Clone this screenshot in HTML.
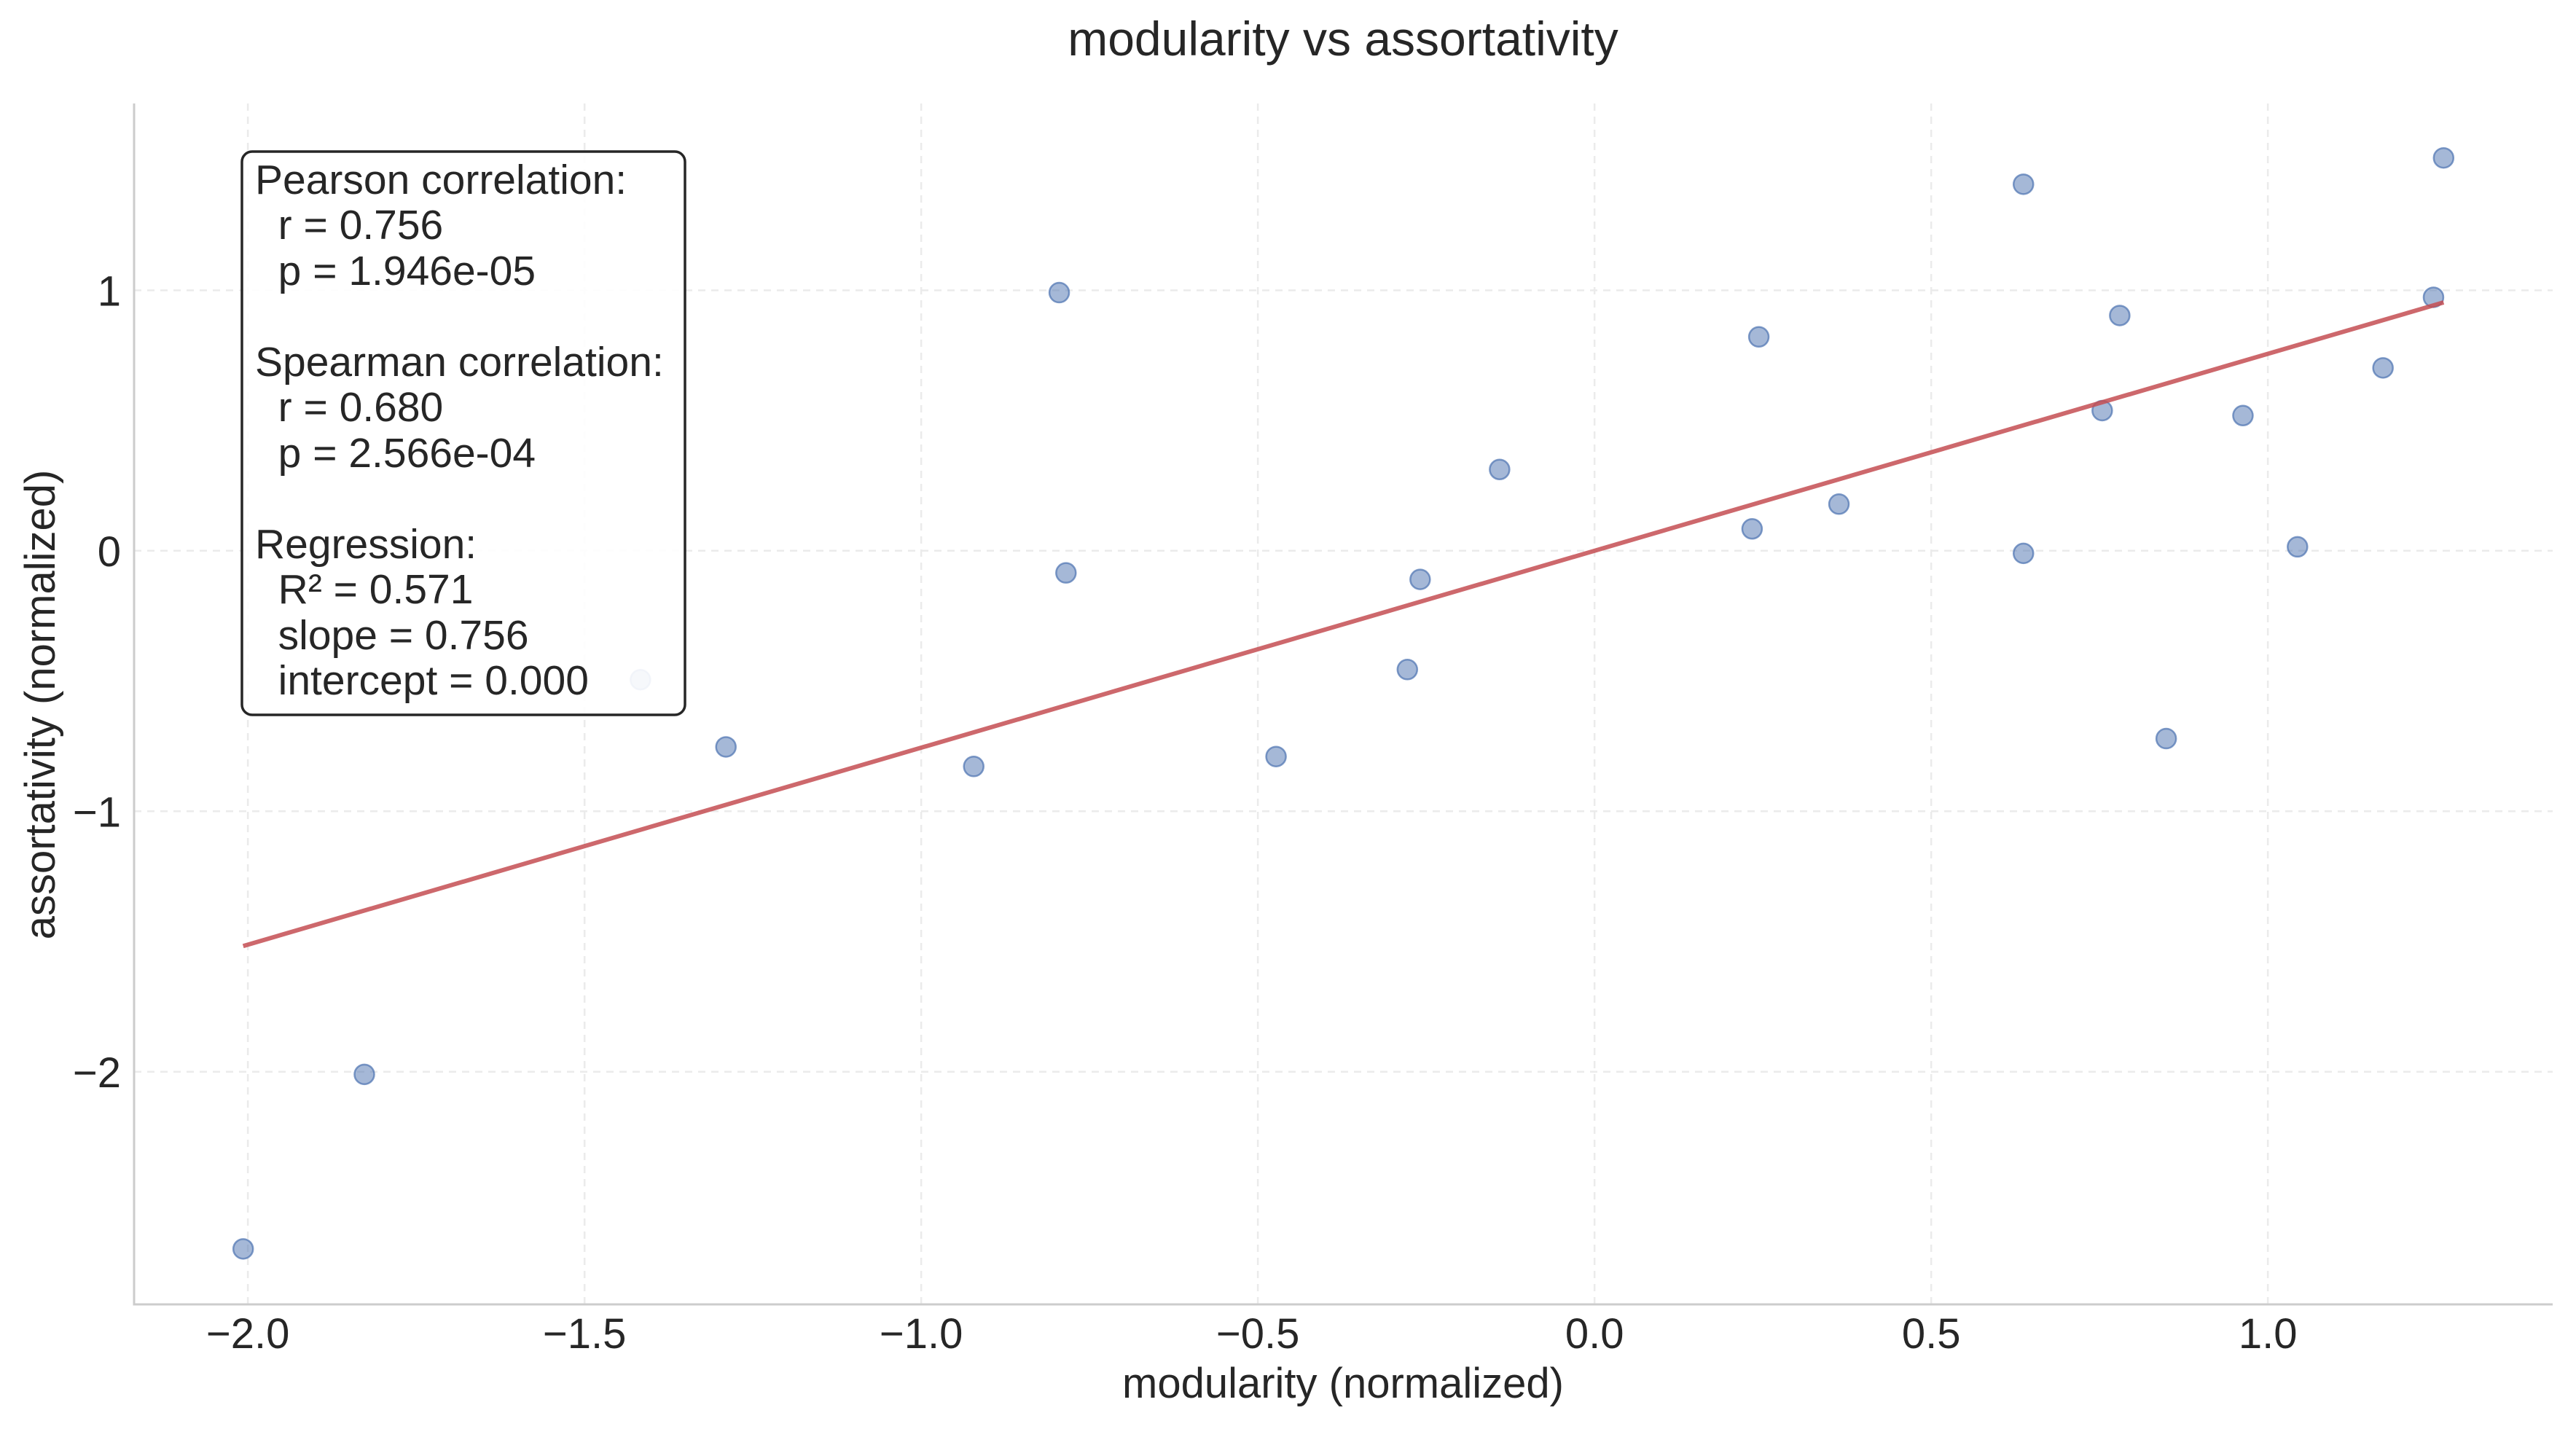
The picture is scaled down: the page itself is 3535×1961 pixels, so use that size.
<!DOCTYPE html>
<html><head><meta charset="utf-8"><style>
html,body{margin:0;padding:0;background:#fff;}
svg{display:block;font-family:"Liberation Sans",Arial,sans-serif;}
</style></head><body>
<svg id="chart" width="3535" height="1961" viewBox="0 0 3535 1961" xmlns="http://www.w3.org/2000/svg">
<rect width="3535" height="1961" fill="#fff"/>
<g id="grid"></g>
<g id="marks"></g>
<g id="axes"></g>
<text x="1843" y="76" font-size="66" text-anchor="middle" fill="#262626">modularity vs assortativity</text>
<text x="1843" y="1918" font-size="58" text-anchor="middle" fill="#262626">modularity (normalized)</text>
<text transform="translate(75,967) rotate(-90)" font-size="58" text-anchor="middle" fill="#262626">assortativity (normalized)</text>
<g>
<rect x="332" y="208" width="608" height="773" rx="14" fill="#fff" fill-opacity="0.9" stroke="#262626" stroke-width="3.5"/>
<text font-size="57" fill="#262626" xml:space="preserve">
<tspan x="350" y="266">Pearson correlation:</tspan>
<tspan x="350" y="328">  r = 0.756</tspan>
<tspan x="350" y="391">  p = 1.946e-05</tspan>
<tspan x="350" y="516">Spearman correlation:</tspan>
<tspan x="350" y="578">  r = 0.680</tspan>
<tspan x="350" y="641">  p = 2.566e-04</tspan>
<tspan x="350" y="766">Regression:</tspan>
<tspan x="350" y="828">  R² = 0.571</tspan>
<tspan x="350" y="891">  slope = 0.756</tspan>
<tspan x="350" y="953">  intercept = 0.000</tspan>
</text>
</g>
</svg>
<script>
const modularity = [-2.007,-1.827,-1.417,-1.29,-0.922,-0.795,-0.785,-0.473,-0.278,-0.259,-0.141,0.234,0.244,0.363,0.637,0.637,0.754,0.78,0.849,0.963,1.044,1.171,1.246,1.261];
const assortativity = [-2.68,-2.01,-0.495,-0.753,-0.828,0.991,-0.085,-0.79,-0.456,-0.11,0.312,0.084,0.821,0.179,1.407,-0.01,0.538,0.903,-0.721,0.519,0.015,0.702,0.973,1.508];
const xTicks = [-2.0,-1.5,-1.0,-0.5,0.0,0.5,1.0];
const xTickLabels = ["\u22122.0","\u22121.5","\u22121.0","\u22120.5","0.0","0.5","1.0"];
const yTicks = [-2,-1,0,1];
const yTickLabels = ["\u22122","\u22121","0","1"];
const regSlope = 0.756;
const regIntercept = 0.0;

const L=184,R=3503,T=142,B=1790;
const xMin=-2.169,xMax=1.423,yMin=-2.893,yMax=1.717;
const sx=v=>L+(v-xMin)/(xMax-xMin)*(R-L);
const sy=v=>B-(v-yMin)/(yMax-yMin)*(B-T);
const NS="http://www.w3.org/2000/svg";
function mk(tag,attrs,parent){const e=document.createElementNS(NS,tag);for(const k in attrs)e.setAttribute(k,attrs[k]);parent.appendChild(e);return e;}
const grid=document.getElementById('grid'),marks=document.getElementById('marks'),axes=document.getElementById('axes');
xTicks.forEach((t,i)=>{
  const g=mk('line',{x1:sx(t),x2:sx(t),y1:T,y2:B,stroke:'#ebebeb','stroke-width':2.5,'stroke-dasharray':'10,8'},grid);
  
  
  const tx=mk('text',{x:sx(t),y:1850,'font-size':58,'text-anchor':'middle',fill:'#262626'},axes);
  tx.textContent=xTickLabels[i];
  
  
});
yTicks.forEach((t,i)=>{
  const g=mk('line',{x1:L,x2:R,y1:sy(t),y2:sy(t),stroke:'#ebebeb','stroke-width':2.5,'stroke-dasharray':'10,8'},grid);
  
  
  const tx=mk('text',{x:166,y:sy(t)+21,'font-size':58,'text-anchor':'end',fill:'#262626'},axes);
  tx.textContent=yTickLabels[i];
  
  
});
const sl=mk('line',{x1:L,x2:L,y1:T,y2:B+1.5,stroke:'#cccccc','stroke-width':3},axes);


const sb=mk('line',{x1:L-1.5,x2:R,y1:B,y2:B,stroke:'#cccccc','stroke-width':3},axes);


modularity.forEach((x,i)=>{
  const c=mk('circle',{cx:sx(x),cy:sy(assortativity[i]),r:13.5,fill:'#4c72b0','fill-opacity':0.5,stroke:'#4c72b0','stroke-opacity':0.7,'stroke-width':2.5},marks);
  
  
});
const x0=Math.min(...modularity),x1=Math.max(...modularity);
const rl=mk('line',{x1:sx(x0),y1:sy(regSlope*x0+regIntercept),x2:sx(x1),y2:sy(regSlope*x1+regIntercept),stroke:'#c44e52','stroke-opacity':0.85,'stroke-width':6},marks);


</script>
</body></html>
